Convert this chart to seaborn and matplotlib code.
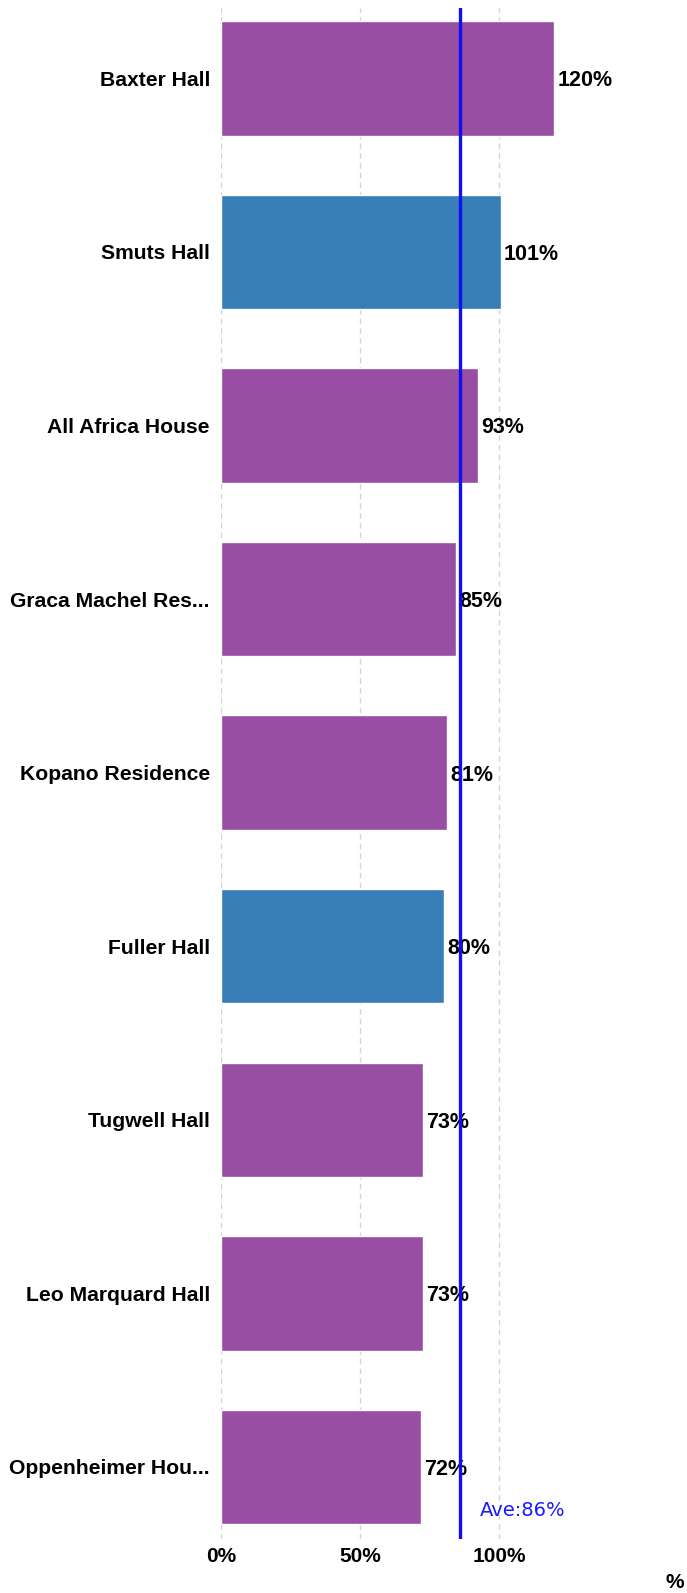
import matplotlib
matplotlib.use("Agg")
import matplotlib.pyplot as plt
import seaborn as sns
import pandas as pd

names = ["Baxter Hall", "Smuts Hall", "All Africa House", "Graca Machel Res...",
         "Kopano Residence", "Fuller Hall", "Tugwell Hall", "Leo Marquard Hall",
         "Oppenheimer Hou..."]
values = [119.8, 100.6, 92.6, 84.6, 81.2, 80.4, 72.6, 72.6, 71.8]
labels = ["120%", "101%", "93%", "85%", "81%", "80%", "73%", "73%", "72%"]
groups = ["a", "b", "a", "a", "a", "b", "a", "a", "a"]
average = 86
xticks = [0, 50, 100]
xticklabels = ["0%", "50%", "100%"]

palette = {"a": "#984EA3", "b": "#377EB8"}

sns.set_theme(style="white")
plt.rcParams['font.family'] = ['Liberation Sans', 'DejaVu Sans']
plt.rcParams['text.color'] = 'black'
plt.rcParams['xtick.color'] = 'black'
plt.rcParams['ytick.color'] = 'black'

W, H = 687, 1593
fig = plt.figure(figsize=(W / 100, H / 100), dpi=100)
left, right = 221, 624
top, bottom = 8, 1539
ax = fig.add_axes([left / W, 1 - bottom / H, (right - left) / W, (bottom - top) / H])

df = pd.DataFrame({"name": names, "value": values, "group": groups})
sns.barplot(data=df, y="name", x="value", hue="group", palette=palette,
            dodge=False, legend=False, width=0.66, saturation=1, ax=ax, orient="h")

ax.set_xlim(0, 145)
ax.set_ylim(len(names) - 1 + 0.415, -0.405)
ax.set_xticks(xticks)
ax.set_xticklabels(xticklabels, fontweight="bold", fontsize=15, color="black")
ax.tick_params(axis="x", length=2, color="#f5a04a", pad=4)
ax.tick_params(axis="y", length=0, pad=8)
for t in ax.get_yticklabels():
    t.set_fontweight("bold")
    t.set_fontsize(15.2)
    t.set_color("black")
ax.set_xlabel("")
ax.set_ylabel("")
for s in ax.spines.values():
    s.set_visible(False)
ax.grid(axis="x", color="#d4d4d4", linestyle=(0, (4, 3)), linewidth=1)
ax.set_axisbelow(True)

for i, (v, lab) in enumerate(zip(values, labels)):
    ax.text(v + 1.2, i, lab, va="center_baseline", ha="left", fontweight="bold", fontsize=15.5, color="black")

ax.axvline(average, color="#1010ee", linewidth=2.4, zorder=5)
ax.text(average + 7, len(names) - 1 + 0.25, "Ave:%d%%" % average, color="#1a1aff",
        fontsize=14, family=["DejaVu Sans"], va="center", ha="left")

fig.text(0.996, 1 - 1583 / H, "%", ha="right", va="center", fontweight="bold", fontsize=15, color="black")

fig.savefig("out.png", dpi=100)
